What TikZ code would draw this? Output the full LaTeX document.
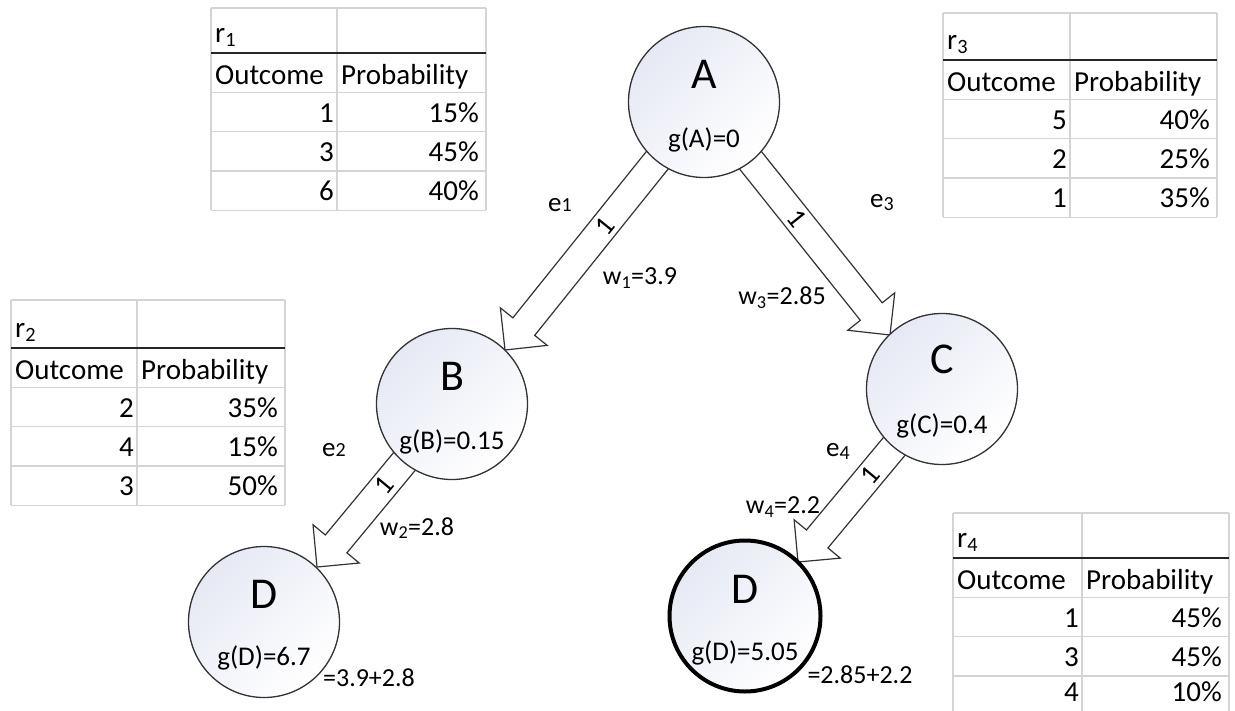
\documentclass[tikz,border=0pt]{standalone}
\usepackage{fontspec}
\setmainfont{Carlito}
\usetikzlibrary{calc,backgrounds}
\definecolor{gridgray}{HTML}{D4D4D4}
\definecolor{vtop}{HTML}{E6E9F4}
\definecolor{edgegray}{HTML}{333333}
\tikzset{
 gridline/.style={draw=gridgray, line width=1.4pt},
 thickrule/.style={draw=black!85, line width=2pt},
 tabtxt/.style={inner sep=0pt, font=\fontsize{29}{34}\selectfont},
 vertex/.style={circle, draw=edgegray, line width=1.3pt, minimum size=151pt, inner sep=0pt,
   top color=vtop, bottom color=white, shading angle=45},
 goalvertex/.style={vertex, draw=black, line width=4pt},
 bigletter/.style={inner sep=0pt, anchor=base, font=\fontsize{44}{50}\selectfont},
 gval/.style={inner sep=0pt, anchor=base, font=\fontsize{27}{32}\selectfont},
 elabel/.style={inner sep=0pt, font=\fontsize{27}{32}\selectfont},
 wlabel/.style={inner sep=0pt, font=\fontsize{26}{31}\selectfont},
 onelabel/.style={inner sep=0pt, font=\fontsize{28}{32}\selectfont, sloped, midway},
 blockarrow/.style={draw=edgegray, line width=1.2pt, fill=white, line join=miter},
}
\newcommand\osdig[1]{{\fontsize{20}{20}\selectfont #1}}
\newcommand\osdiglow[1]{\raisebox{-3pt}{\fontsize{20}{20}\selectfont #1}}
% #8: extra lift of the last row's text
\newcommand\probtable[8]{%
 \pgfmathsetmacro\ybot{#5+4*39.3}
 \draw[gridline] (#1,#4) -- (#1,\ybot);
 \draw[gridline] (#2,#4) -- (#2,\ybot);
 \draw[gridline] (#3,#4) -- (#3,\ybot);
 \draw[gridline] (#1,#4) -- (#3,#4);
 \foreach \k in {1,...,4} {\draw[gridline] (#1,{#5+\k*39.3}) -- (#3,{#5+\k*39.3});}
 \draw[thickrule] (#1,#5) -- (#3,#5);
 \node[tabtxt, anchor=base west] (r#6) at ({#1+4},{#5-11}) {r\textsubscript{#6}};
 \node[tabtxt, anchor=base west] (oc#6) at ({#1+4},{#5+39.3-8}) {Outcome};
 \node[tabtxt, anchor=base west] (pr#6) at ({#2+4},{#5+39.3-8}) {Probability};
 \foreach \n/\p [count=\k] in {#7} {
   \pgfmathsetmacro\lift{(\k==3)*#8}
   \node[tabtxt, anchor=base east] (n#6\k) at ({#2-3},{#5+(\k+1)*39.3-9.5-\lift}) {\n};
   \node[tabtxt, anchor=base east] (p#6\k) at ({#3-7},{#5+(\k+1)*39.3-9.5-\lift}) {\p\%};
 }
}
\newcommand\blkarrow[3]{%
 \coordinate (#3n) at ($(#2)!30pt!(#1.center)$);
 \draw[blockarrow] ($(#1.center)!14pt!90:(#2)$) -- ($(#3n)!14pt!90:(#2)$) -- ($(#3n)!30pt!90:(#2)$)
   -- (#2) -- ($(#3n)!30pt!-90:(#2)$) -- ($(#3n)!14pt!-90:(#2)$) -- ($(#1.center)!14pt!-90:(#2)$) -- cycle;
 \path (#1.center) -- (#2) node[onelabel] (#3one) {1};
}
\begin{document}
\begin{tikzpicture}[x=1pt,y=-1pt]
\useasboundingbox (0,0) rectangle (1235,710);
\clip (0,0) rectangle (1235,710);

% tables
\probtable{211}{337}{486}{8}{53}{1}{1/15,3/45,6/40}{0}
\probtable{11}{137}{285}{300}{348}{2}{2/35,4/15,3/50}{0}
\probtable{943}{1070}{1217}{13}{60}{3}{5/40,2/25,1/35}{0}
\probtable{953}{1082}{1229}{513}{558}{4}{1/45,3/45,4/10}{4}

% vertices
\node[vertex] (A) at (704,102) {};
\node[vertex] (B) at (452,404) {};
\node[vertex] (C) at (942,389) {};
\node[vertex] (D1) at (264,622) {};
\node[goalvertex] (D2) at (745,616) {};

\node[bigletter] (Aname) at ([yshift=14pt]A.center) {A};
\node[gval] (Ag) at ([yshift=-45pt]A.center) {g(A)=0};
\node[bigletter] (Bname) at ([yshift=14pt]B.center) {B};
\node[gval] (Bg) at ([yshift=-45pt]B.center) {g(B)=0.15};
\node[bigletter] (Cname) at ([yshift=16pt]C.center) {C};
\node[gval] (Cg) at ([yshift=-44pt]C.center) {g(C)=0.4};
\node[bigletter] (D1name) at ([yshift=14pt]D1.center) {D};
\node[gval] (D1g) at ([yshift=-43pt]D1.center) {g(D)=6.7};
\node[bigletter] (D2name) at ([yshift=13pt]D2.center) {D};
\node[gval] (D2g) at ([yshift=-44pt]D2.center) {g(D)=5.05};

% tips on target circles
\coordinate (tAB) at (505,350);
\coordinate (tAC) at (890,335);
\coordinate (tBD) at (317,567);
\coordinate (tCD) at (798,562);

\begin{pgfonlayer}{background}
\fill[white] (0,0) rectangle (1235,710);
\blkarrow{A}{tAB}{eab}
\blkarrow{A}{tAC}{eac}
\blkarrow{B}{tBD}{ebd}
\blkarrow{C}{tCD}{ecd}
\end{pgfonlayer}

% edge labels
\node[elabel] (e1) at (560,205) {e\osdig{1}};
\node[elabel] (e3) at (882,203) {e\osdiglow{3}};
\node[elabel] (e2) at (334,450) {e\osdig{2}};
\node[elabel] (e4) at (838,451) {e\osdiglow{4}};

\node[wlabel] (w1) at (640,278) {w\textsubscript{1}=3.9};
\node[wlabel] (w3) at (782,298) {w\textsubscript{3}=2.85};
\node[wlabel] (w2) at (417,528) {w\textsubscript{2}=2.8};
\node[wlabel] (w4) at (783,507) {w\textsubscript{4}=2.2};

\node[wlabel] (sum1) at (369,678) {=3.9+2.8};
\node[wlabel] (sum2) at (860,675) {=2.85+2.2};
\end{tikzpicture}
\end{document}
